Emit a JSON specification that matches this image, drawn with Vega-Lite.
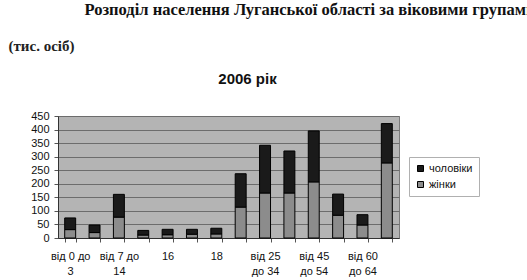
{
  "$schema": "https://vega.github.io/schema/vega-lite/v6.json",
  "autosize": {"type": "none"},
  "padding": {"left": 58, "top": 116, "right": 469, "bottom": 164},
  "background": "white",
  "title": {
    "text": "Розподіл населення Луганської області за віковими групами",
    "anchor": "start",
    "frame": "bounds",
    "dx": 77,
    "offset": 19,
    "font": "Liberation Serif",
    "fontSize": 16.5,
    "fontWeight": "bold",
    "color": "#111111"
  },
  "vconcat": [
    {
      "width": 341,
      "height": 122,
      "title": {
        "text": "2006 рік",
        "anchor": "middle",
        "frame": "group",
        "dx": 19,
        "offset": -49,
        "font": "Liberation Sans",
        "fontSize": 15,
        "fontWeight": "bold",
        "color": "#111111"
      },
      "data": {
        "values": [
          {"group": "від 0 до 3", "sex": "жінки", "value": 31},
          {"group": "від 0 до 3", "sex": "чоловіки", "value": 43},
          {"group": "від 4 до 6", "sex": "жінки", "value": 20},
          {"group": "від 4 до 6", "sex": "чоловіки", "value": 28},
          {"group": "від 7 до 14", "sex": "жінки", "value": 77},
          {"group": "від 7 до 14", "sex": "чоловіки", "value": 84},
          {"group": "15", "sex": "жінки", "value": 11},
          {"group": "15", "sex": "чоловіки", "value": 17},
          {"group": "16", "sex": "жінки", "value": 12},
          {"group": "16", "sex": "чоловіки", "value": 20},
          {"group": "17", "sex": "жінки", "value": 14},
          {"group": "17", "sex": "чоловіки", "value": 18},
          {"group": "18", "sex": "жінки", "value": 15},
          {"group": "18", "sex": "чоловіки", "value": 21},
          {"group": "від 19 до 24", "sex": "жінки", "value": 114},
          {"group": "від 19 до 24", "sex": "чоловіки", "value": 123},
          {"group": "від 25 до 34", "sex": "жінки", "value": 166},
          {"group": "від 25 до 34", "sex": "чоловіки", "value": 176},
          {"group": "від 35 до 44", "sex": "жінки", "value": 166},
          {"group": "від 35 до 44", "sex": "чоловіки", "value": 155},
          {"group": "від 45 до 54", "sex": "жінки", "value": 207},
          {"group": "від 45 до 54", "sex": "чоловіки", "value": 188},
          {"group": "від 55 до 59", "sex": "жінки", "value": 84},
          {"group": "від 55 до 59", "sex": "чоловіки", "value": 78},
          {"group": "від 60 до 64", "sex": "жінки", "value": 48},
          {"group": "від 60 до 64", "sex": "чоловіки", "value": 38},
          {"group": "65 і старше", "sex": "жінки", "value": 277},
          {"group": "65 і старше", "sex": "чоловіки", "value": 145}
        ]
      },
      "transform": [
        {"calculate": "datum.sex === 'жінки' ? 0 : 1", "as": "stackOrder"}
      ],
      "mark": {"type": "bar", "stroke": "#000000", "strokeWidth": 1},
      "encoding": {
        "x": {
          "field": "group",
          "type": "nominal",
          "sort": null,
          "scale": {"paddingInner": 0.55, "paddingOuter": 0.275},
          "axis": {
            "title": null,
            "labelAngle": 0,
            "labelOverlap": false,
            "labelBaseline": "top",
            "labelLineHeight": 15,
            "labelPadding": 8,
            "tickBand": "extent",
            "tickSize": 4,
            "labelExpr": "datum.value === 'від 0 до 3' ? ['від 0 до', '3'] : datum.value === 'від 7 до 14' ? ['від 7 до', '14'] : datum.value === '16' ? '16' : datum.value === '18' ? '18' : datum.value === 'від 25 до 34' ? ['від 25', 'до 34'] : datum.value === 'від 45 до 54' ? ['від 45', 'до 54'] : datum.value === 'від 60 до 64' ? ['від 60', 'до 64'] : ''"
          }
        },
        "y": {
          "field": "value",
          "type": "quantitative",
          "stack": "zero",
          "scale": {"domain": [0, 450], "nice": false},
          "axis": {
            "title": "(тис. осіб)",
            "titleAngle": 0,
            "titleX": -50,
            "titleY": -71,
            "titleAlign": "left",
            "titleBaseline": "middle",
            "titleFont": "Liberation Serif",
            "titleFontSize": 15,
            "titleFontWeight": "bold",
            "titleColor": "#222222",
            "values": [0, 50, 100, 150, 200, 250, 300, 350, 400, 450],
            "tickSize": 4,
            "labelPadding": 5,
            "grid": true
          }
        },
        "color": {
          "field": "sex",
          "type": "nominal",
          "scale": {"domain": ["чоловіки", "жінки"], "range": ["#1a1a1a", "#8c8c8c"]},
          "legend": {
            "title": null,
            "orient": "none",
            "legendX": 351,
            "legendY": 41,
            "padding": 6,
            "strokeColor": "#b0b0b0",
            "fillColor": "#ffffff",
            "symbolType": "square",
            "symbolSize": 36,
            "symbolStrokeColor": "#000000",
            "symbolStrokeWidth": 1,
            "labelFont": "Liberation Sans",
            "labelFontSize": 11,
            "labelColor": "#111111",
            "labelOffset": 3,
            "rowPadding": 4
          }
        },
        "order": {"field": "stackOrder", "type": "quantitative"}
      }
    }
  ],
  "config": {
    "view": {"fill": "#b4b4b4", "stroke": "#7a7a7a"},
    "axis": {
      "labelFont": "Liberation Sans",
      "labelFontSize": 11,
      "labelColor": "#111111",
      "gridColor": "#6c6c6c",
      "gridWidth": 1,
      "gridOpacity": 1,
      "domainColor": "#333333",
      "tickColor": "#555555"
    }
  }
}
